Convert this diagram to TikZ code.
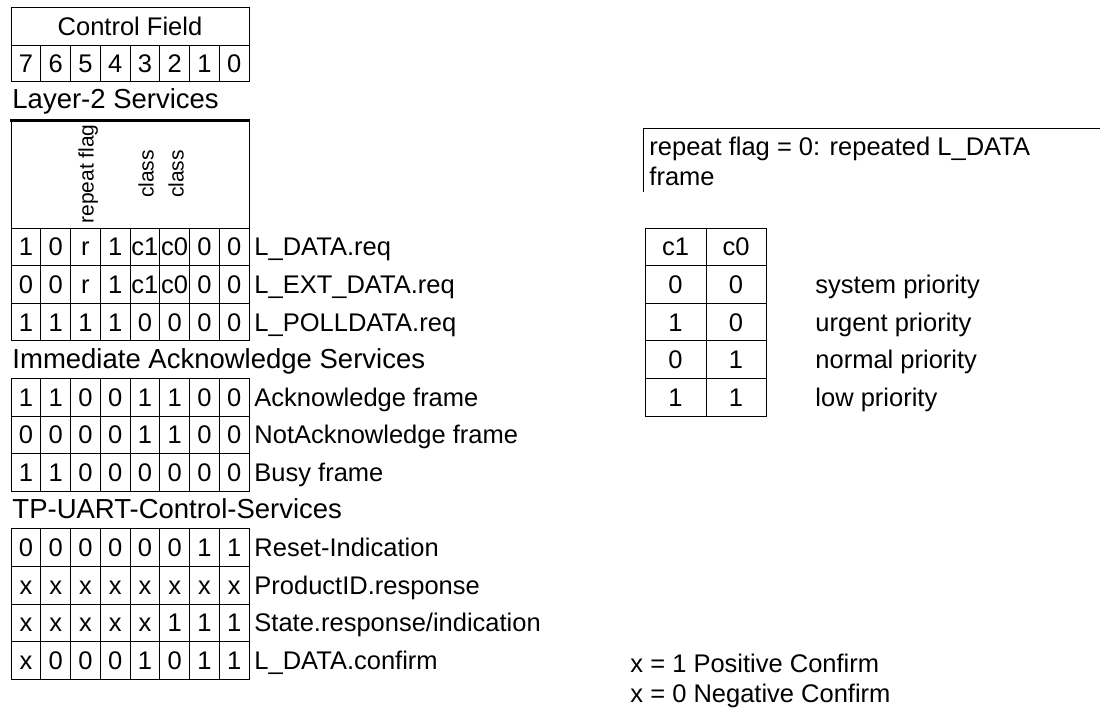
\documentclass[tikz,border=0pt]{standalone}
\usepackage{fontspec}
\setmainfont{Liberation Sans}

\begin{document}
\begin{tikzpicture}[x=1pt,y=-1pt,line width=0.9pt,
	every node/.style={font=\fontsize{25.5}{30}\selectfont,inner sep=0pt,text height=18pt,text depth=0pt},
	bit/.style={anchor=center},
	lbl/.style={anchor=west},
	sect/.style={anchor=west,font=\fontsize{27.5}{32}\selectfont,text height=19.5pt},
	vlbl/.style={rotate=90,anchor=center,font=\fontsize{21}{24}\selectfont,text height=15pt}]
	\useasboundingbox (0,0) rectangle (1106,713);

	% control field head
	\draw (11,7) rectangle (249,81);
	\draw (11,45) -- (249,45);
	\node[bit] (cfield) at (130,26) {Control Field};
	\foreach \b [count=\i from 0] in {7,6,5,4,3,2,1,0}
		\draw (11+29.75*\i,45) -- (11+29.75*\i,81) node[bit] (head\b) at (11+29.75*\i+14.9,63) {\b};

	% layer-2
	\node[sect] (layer2) at (12,99) {Layer-2 Services};
	\draw (11,228) -- (11,120) (249,120) -- (249,228);
	\draw[line width=3pt] (10,120) -- (250,120);
	\node[vlbl] (rflag) at (86,174) {repeat flag};
	\node[vlbl] (cls1) at (146,174) {class};
	\node[vlbl] (cls0) at (176,174) {class};

	% rows: top / bits / name
	\foreach \y/\bits/\txt [count=\r] in {
		228/{1,0,r,1,c1,c0,0,0}/L\_DATA.req,
		265.6/{0,0,r,1,c1,c0,0,0}/L\_EXT\_DATA.req,
		303.2/{1,1,1,1,0,0,0,0}/L\_POLLDATA.req,
		378.4/{1,1,0,0,1,1,0,0}/Acknowledge frame,
		416/{0,0,0,0,1,1,0,0}/NotAcknowledge frame,
		453.6/{1,1,0,0,0,0,0,0}/Busy frame,
		528.8/{0,0,0,0,0,0,1,1}/Reset-Indication,
		566.4/{x,x,x,x,x,x,x,x}/ProductID.response,
		604/{x,x,x,x,x,1,1,1}/{State.response/indication},
		641.6/{x,0,0,0,1,0,1,1}/L\_DATA.confirm} {
		\foreach \b [count=\i from 0] in \bits {
			\draw (11+29.75*\i,\y) rectangle ++(29.75,37.6);
			\node[bit] (c\r-\i) at (11+29.75*\i+14.9,\y+18.8) {\b};
		}
		\node[lbl] (name\r) at (254,\y+18.8) {\txt};
	}

	\node[sect] (imm) at (12,359) {Immediate Acknowledge Services};
	\node[sect] (tpuart) at (12,509) {TP-UART-Control-Services};

	% repeat flag note
	\draw (643,192) -- (643,128) -- (1100,128);
	\node[lbl] (note1) at (649,146) {repeat flag = 0: repeated L\_DATA};
	\node[lbl] (note2) at (649,176) {frame};

	% priority table
	\foreach \a/\c/\txt [count=\r] in {c1/c0/,0/0/system priority,1/0/urgent priority,0/1/normal priority,1/1/low priority} {
		\draw (645,228+37.6*\r-37.6) rectangle ++(61,37.6);
		\draw (706,228+37.6*\r-37.6) rectangle ++(60,37.6);
		\node[bit] (pa\r) at (675.5,228+37.6*\r-18.8) {\a};
		\node[bit] (pb\r) at (736,228+37.6*\r-18.8) {\c};
		\node[lbl] (prio\r) at (815,228+37.6*\r-18.8) {\txt};
	}

	% confirm
	\node[lbl] (posconf) at (630,663) {x = 1 Positive Confirm};
	\node[lbl] (negconf) at (630,693) {x = 0 Negative Confirm};
\end{tikzpicture}
\end{document}
